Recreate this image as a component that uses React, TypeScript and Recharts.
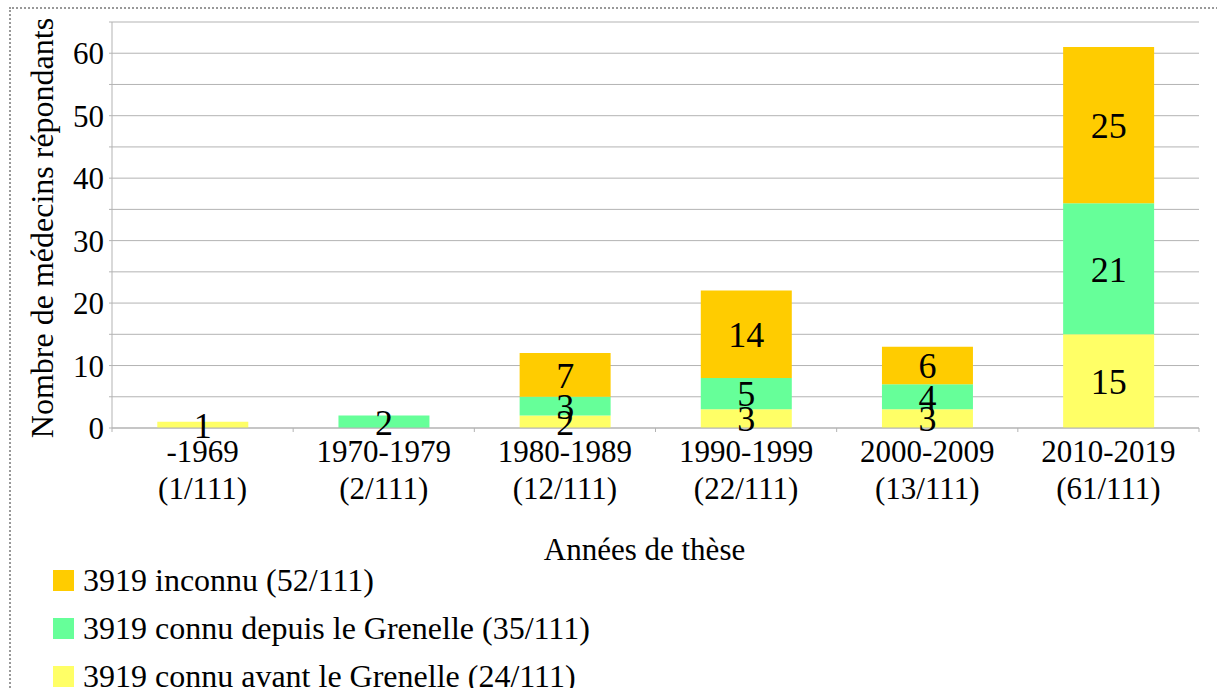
import React from "react";
import {Bar, BarChart, CartesianGrid, LabelList, Legend, XAxis, YAxis} from "recharts";

const periods = ["-1969", "1970-1979", "1980-1989", "1990-1999", "2000-2009", "2010-2019"];
const periodTotals = ["(1/111)", "(2/111)", "(12/111)", "(22/111)", "(13/111)", "(61/111)"];
const avantGrenelle = [1, 0, 2, 3, 3, 15];
const depuisGrenelle = [0, 2, 3, 5, 4, 21];
const inconnu = [0, 0, 7, 14, 6, 25];
const yTicks = [0, 5, 10, 15, 20, 25, 30, 35, 40, 45, 50, 55, 60, 65];

const seriesInfo = [
  {key: "inconnu", name: "3919 inconnu (52/111)", color: "#ffcc00"},
  {key: "depuis", name: "3919 connu depuis le Grenelle (35/111)", color: "#66ff99"},
  {key: "avant", name: "3919 connu avant le Grenelle (24/111)", color: "#ffff66"},
];

const data = periods.map((p, i) => ({
  period: p,
  total: periodTotals[i],
  avant: avantGrenelle[i],
  depuis: depuisGrenelle[i],
  inconnu: inconnu[i],
}));

const W = 1217;
const H = 688;
const MARGIN = {top: 22, right: 18, left: 0, bottom: 0};
const Y_AXIS_W = 112;
const BAND = (W - MARGIN.left - MARGIN.right - Y_AXIS_W) / periods.length;
const TICK_SIZE = 4;
const TICK_MARGIN = 4;
const GRID = "#b3b3b3";
const FONT = "Liberation Serif";

const PeriodTick = (props: any) => {
  const {x, y, index, payload} = props;
  const axisY = y - TICK_SIZE - TICK_MARGIN;
  const last = index === periods.length - 1;
  return (
    <g>
      <line x1={x - BAND / 2} x2={x - BAND / 2} y1={axisY} y2={axisY + TICK_SIZE} stroke={GRID}/>
      {last && <line x1={x + BAND / 2} x2={x + BAND / 2} y1={axisY} y2={axisY + TICK_SIZE} stroke={GRID}/>}
      <text x={x} y={y} textAnchor="middle" fontSize={31} fill="#000" style={{fontFamily: FONT}}>
        <tspan x={x} dy={26}>{payload.value}</tspan>
        <tspan x={x} dy={37}>{periodTotals[index]}</tspan>
      </text>
    </g>
  );
};

const LegendBox = () => (
  <div style={{fontFamily: FONT, fontSize: 32, color: "#000"}}>
    {seriesInfo.map((s) => (
      <div key={s.key} style={{height: 48, display: "flex", alignItems: "center"}}>
        <span style={{width: 21, height: 21, background: s.color, display: "inline-block", marginRight: 9}}/>
        <span style={{whiteSpace: "nowrap"}}>{s.name}</span>
      </div>
    ))}
  </div>
);

const hideZero = (v: any) => (v ? v : "");

export default function App() {
  return (
    <div style={{position: "absolute", left: 0, top: 0, width: W, height: H, overflow: "hidden",
      background: "#fff", fontFamily: FONT}}>
      <div style={{position: "absolute", left: 9, top: 7, width: 1300, height: 800, border: "2px dotted #999"}}/>
      <div style={{position: "absolute", left: 0, top: 0}}>
        <BarChart width={W} height={H} data={data} margin={MARGIN} barCategoryGap="25%"
                  style={{fontFamily: FONT}}>
          <CartesianGrid vertical={false} stroke={GRID}/>
          <XAxis dataKey="period" height={128} stroke={GRID} tickLine={false}
                 tickSize={TICK_SIZE} tickMargin={TICK_MARGIN} tick={<PeriodTick/>} interval={0}
                 label={{
                   content: (p: any) => (
                     <text x={p.viewBox.x + p.viewBox.width / 2 - 11} y={p.viewBox.y + 121}
                           textAnchor="middle" dominantBaseline="central" fontSize={31}
                           fill="#000" style={{fontFamily: FONT}}>Années de thèse</text>
                   ),
                 }}/>
          <YAxis width={Y_AXIS_W} domain={[0, 65]} ticks={yTicks} interval={0} stroke={GRID}
                 tickSize={3} tickMargin={5}
                 tick={{fill: "#000", fontSize: 31, style: {fontFamily: FONT}}}
                 tickFormatter={(v: number) => (v % 10 === 0 ? String(v) : "")}
                 label={{
                   content: (p: any) => {
                     const cy = p.viewBox.y + p.viewBox.height / 2 + 3;
                     return (
                       <text x={42} y={cy} transform={`rotate(-90 42 ${cy})`} textAnchor="middle"
                             dominantBaseline="central" fontSize={32} fill="#000" style={{fontFamily: FONT}}>
                         Nombre de médecins répondants
                       </text>
                     );
                   },
                 }}/>
          <YAxis yAxisId="r" orientation="right" width={0} domain={[0, 65]} tick={false}
                 tickLine={false} stroke={GRID}/>
          <Legend verticalAlign="bottom" align="left" content={<LegendBox/>}
                  wrapperStyle={{left: 53, width: 900, height: 132}}/>
          {[...seriesInfo].reverse().map((s) => (
            <Bar key={s.key} dataKey={s.key} name={s.name} stackId="a" fill={s.color}
                 isAnimationActive={false}>
              <LabelList dataKey={s.key} position="center" formatter={hideZero}
                         style={{fill: "#000", fontSize: 36, fontFamily: FONT}}/>
            </Bar>
          ))}
        </BarChart>
      </div>
    </div>
  );
}
